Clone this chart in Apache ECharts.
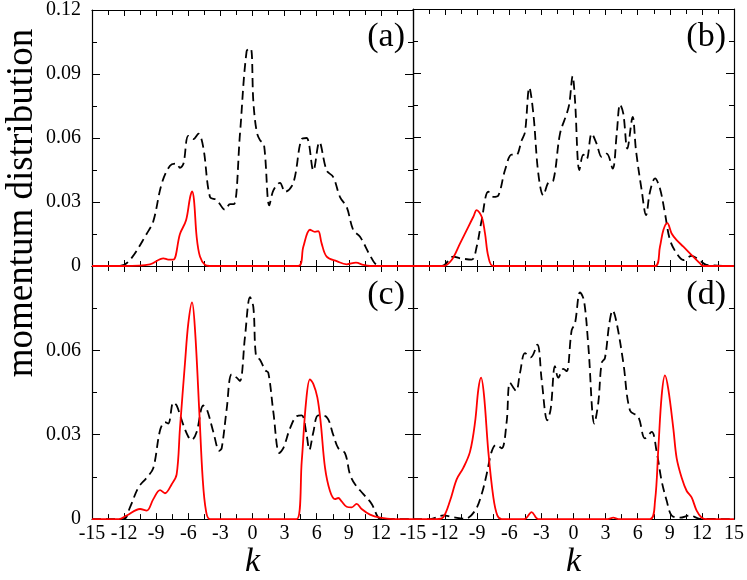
<!DOCTYPE html>
<html>
<head>
<meta charset="utf-8">
<script src="https://cdn.jsdelivr.net/npm/echarts@6/dist/echarts.min.js"></script>
<style>html,body{margin:0;padding:0;background:#fff;font-family:"Liberation Serif","DejaVu Serif",serif}#c{width:747px;height:580px}</style>
</head>
<body>
<div id="c"></div>
<script>
// ---- tick labels / categories ----
var panelLabels = ['(a)', '(b)', '(c)', '(d)'];
var xTickStep = 3;
var yTickStep = 0.03;
var yMaxTop = 0.12;
var yMaxBottom = 0.09;

// ---- panel (a) ----
var aDashK = [-15,-12.4,-11.45,-9.9,-9.27,-8.49,-7.71,-7.09,-6.78,-6.45,-6.0,-5.53,-5.06,-4.6,-3.97,-3.35,-2.57,-2.1,-1.73,-1.17,-0.55,-0.17,0.08,0.39,0.7,1.07,1.57,1.95,2.57,3.04,3.82,4.6,5.06,5.69,6.25,6.93,7.55,8.18,8.8,9.42,10.05,10.98,11.6,12.2,15];
var aDashV = [0,0,0.0028,0.015,0.021,0.0385,0.047,0.048,0.046,0.048,0.061,0.0595,0.062,0.0556,0.0323,0.031,0.0264,0.029,0.029,0.062,0.1007,0.102,0.077,0.063,0.059,0.057,0.0284,0.0354,0.039,0.0347,0.039,0.0595,0.060,0.0448,0.058,0.0448,0.0417,0.0323,0.0277,0.0168,0.0137,0.005,0.0005,0,0];
var aSolidK = [-15,-12,-9.58,-8.33,-7.87,-7.4,-6.78,-6.21,-5.84,-5.65,-5.47,-5.22,-4.91,-4.44,-4,4.28,4.75,5.37,5.84,6.15,6.46,6.93,7.87,8.8,9.67,10.36,11,15];
var aSolidV = [0,0,0.0008,0.0036,0.003,0.003,0.015,0.0214,0.032,0.035,0.031,0.0137,0.0044,0.0005,0,0,0.009,0.017,0.016,0.0163,0.0106,0.0044,0.0023,0.0008,0.0016,0.0005,0,0];

// ---- panel (b) ----
var bDashK = [-15,-12.3,-11.23,-10.6,-9.52,-9.05,-8.58,-7.96,-7.49,-7.02,-6.4,-5.78,-5.37,-4.84,-4.53,-4.13,-3.75,-3.29,-2.82,-2.35,-1.88,-1.26,-0.64,-0.39,-0.08,0.14,0.55,0.92,1.23,1.7,2.17,2.63,3.1,3.66,4.04,4.35,4.66,5.03,5.53,5.84,6.37,6.78,7.15,7.62,8.08,8.55,9.02,9.64,10.27,11.04,11.82,12.44,15];
var bDashV = [0,0,0.0044,0.0036,0.003,0.009,0.0214,0.0347,0.0323,0.033,0.0448,0.052,0.0517,0.0587,0.0626,0.0833,0.071,0.0432,0.033,0.039,0.040,0.0618,0.071,0.0758,0.0886,0.0774,0.0448,0.052,0.050,0.0618,0.057,0.051,0.0525,0.0455,0.0618,0.0755,0.071,0.0548,0.0696,0.054,0.0354,0.0238,0.0347,0.0409,0.0362,0.0245,0.0121,0.0059,0.0028,0.0047,0.0025,0.0005,0];
var bSolidK = [-15,-12.17,-11.39,-10.6,-9.83,-9.36,-9.05,-8.58,-8.27,-7.96,-7.49,7.62,8.08,8.4,8.77,9.17,9.64,10.27,11.04,11.82,12.13,15];
var bSolidV = [0,0,0.0028,0.0106,0.0183,0.023,0.0261,0.023,0.0152,0.0044,0,0,0.009,0.0168,0.020,0.0152,0.0121,0.009,0.0051,0.0012,0,0];

// ---- panel (c) ----
var cDashK = [-15,-12.07,-11.45,-10.67,-9.89,-9.27,-8.64,-8.18,-7.87,-7.4,-7.09,-6.46,-6.0,-5.69,-5.22,-4.6,-4.28,-3.66,-3.1,-2.88,-2.41,-1.95,-1.48,-1.17,-0.7,-0.23,0.08,0.33,0.7,1.17,1.48,1.95,2.51,2.88,3.5,4.13,4.6,5.06,5.31,5.69,6.15,6.93,7.55,8.02,8.64,9.11,9.58,10.36,11.14,11.76,12.2,15];
var cDashV = [0,0,0.0042,0.0112,0.0147,0.0182,0.0316,0.0345,0.034,0.0415,0.0404,0.0334,0.0293,0.0281,0.031,0.0404,0.0392,0.031,0.0243,0.0252,0.0392,0.0515,0.0503,0.0491,0.0649,0.0789,0.0754,0.0579,0.0567,0.053,0.052,0.038,0.0235,0.0252,0.0322,0.0366,0.0369,0.0299,0.0246,0.031,0.0369,0.0363,0.0299,0.0252,0.0235,0.0159,0.0124,0.0089,0.0054,0.0005,0,0];
var cSolidK = [-15,-12.5,-11.76,-10.51,-9.89,-9.27,-8.64,-8.18,-7.55,-7.09,-6.78,-6.31,-6.0,-5.65,-5.37,-4.97,-4.66,-4.35,-3.97,4.13,4.6,5.0,5.37,5.69,6.06,6.37,6.78,7.24,7.71,8.02,8.33,8.8,9.27,9.73,10.2,10.98,11.92,13.16,15];
var cSolidV = [0,0,0.0013,0.0036,0.003,0.0071,0.0103,0.0092,0.0124,0.0159,0.0322,0.0555,0.0696,0.0771,0.0672,0.038,0.0147,0.003,0,0,0.0205,0.0415,0.0497,0.048,0.0433,0.0345,0.0182,0.01,0.0071,0.0075,0.0063,0.0044,0.0042,0.0054,0.0036,0.0016,0.0005,0,0];

// ---- panel (d) ----
var dDashK = [-15,-13.4,-12.17,-11.23,-10.14,-9.2,-8.58,-8.12,-7.65,-7.24,-6.71,-6.25,-5.93,-5.37,-5.0,-4.53,-4.0,-3.38,-2.98,-2.45,-2.13,-1.73,-1.42,-0.95,-0.64,-0.17,0.14,0.61,0.98,1.39,1.95,2.32,2.63,2.94,3.35,3.66,4.04,4.66,5.28,6.06,6.68,7.31,7.77,8.24,8.71,9.17,9.95,10.89,11.82,15];
var dDashV = [0,0,0.0013,0.0007,0.0001,0.003,0.0089,0.0159,0.024,0.0264,0.0252,0.0345,0.0485,0.0456,0.052,0.059,0.0575,0.062,0.0497,0.0351,0.0392,0.0544,0.0503,0.0534,0.0526,0.0672,0.0696,0.0806,0.0777,0.0614,0.034,0.0415,0.0555,0.0573,0.0696,0.0742,0.0696,0.0555,0.0386,0.0363,0.0287,0.031,0.024,0.0135,0.0065,0.0013,0.0005,0.0013,0.0001,0];
var dSolidK = [-15,-12.8,-12.17,-11.54,-10.92,-10.3,-9.67,-9.2,-8.89,-8.64,-8.36,-7.96,-7.49,-7.12,-6.71,-4.6,-3.91,-3.3,3.2,3.72,4.2,7.15,7.62,7.93,8.24,8.55,8.86,9.33,9.64,10.11,10.58,11.04,11.51,11.98,12.5,15];
var dSolidV = [0,0,0.0007,0.0065,0.0141,0.0182,0.024,0.0345,0.0462,0.0503,0.0439,0.024,0.0077,0.0013,0,0,0.0025,0,0,0.0005,0,0,0.0065,0.0252,0.0439,0.0511,0.0462,0.0322,0.0217,0.0147,0.01,0.0077,0.003,0.0005,0,0];

function zip(k, v) { return k.map(function (x, i) { return [x, v[i]]; }); }

var FONT = '"Liberation Serif", "DejaVu Serif", "Times New Roman", Times, serif';
var grids = [
  { left: 92, top: 9, width: 321, height: 257 },
  { left: 413, top: 9, width: 321, height: 257 },
  { left: 92, top: 266, width: 321, height: 258 },
  { left: 413, top: 266, width: 321, height: 258 }
];
var yMaxes = [yMaxTop, yMaxTop, yMaxBottom, yMaxBottom];
var dashSets = [[aDashK, aDashV], [bDashK, bDashV], [cDashK, cDashV], [dDashK, dDashV]];
var solidSets = [[aSolidK, aSolidV], [bSolidK, bSolidV], [cSolidK, cSolidV], [dSolidK, dSolidV]];

var lineCommon = { show: true, onZero: false, lineStyle: { color: '#000', width: 1.2 } };
var tickStyle = { color: '#000', width: 1 };
var xAxes = [], yAxes = [], series = [];
for (var g = 0; g < 4; g++) {
  var isBottom = g >= 2, isLeft = (g % 2) === 0;
  xAxes.push({
    type: 'value', gridIndex: g, position: 'bottom', min: -15, max: 15, interval: xTickStep,
    axisLine: lineCommon, splitLine: { show: false },
    axisTick: { inside: true, length: 6, lineStyle: tickStyle },
    minorTick: { show: true, splitNumber: 2, length: 5, lineStyle: tickStyle },
    axisLabel: { show: isBottom, margin: 5, color: '#000', fontSize: 20, fontFamily: FONT,
      showMaxLabel: g === 3, formatter: function (v) { return String(v); } },
    name: isBottom ? 'k' : '', nameLocation: 'middle', nameGap: 25,
    nameTextStyle: { fontStyle: 'italic', fontSize: 34, fontFamily: FONT, color: '#000' }
  });
  xAxes.push({
    type: 'value', gridIndex: g, position: 'top', min: -15, max: 15, interval: xTickStep,
    axisLine: lineCommon, splitLine: { show: false },
    axisTick: { inside: true, length: 6, lineStyle: tickStyle },
    minorTick: { show: true, splitNumber: 2, length: 5, lineStyle: tickStyle },
    axisLabel: { show: false }
  });
  yAxes.push({
    type: 'value', gridIndex: g, position: 'left', min: 0, max: yMaxes[g], interval: yTickStep,
    axisLine: lineCommon, splitLine: { show: false },
    axisTick: { inside: true, length: 8, lineStyle: tickStyle },
    minorTick: { show: true, splitNumber: 2, length: 5, lineStyle: tickStyle },
    axisLabel: { show: isLeft, margin: 11, color: '#000', fontSize: 20, fontFamily: FONT,
      showMaxLabel: !isBottom,
      formatter: function (v) { return v === 0 ? '0' : v.toFixed(2); } }
  });
  yAxes.push({
    type: 'value', gridIndex: g, position: 'right', min: 0, max: yMaxes[g], interval: yTickStep,
    axisLine: lineCommon, splitLine: { show: false },
    axisTick: { inside: true, length: 8, lineStyle: tickStyle },
    minorTick: { show: true, splitNumber: 2, length: 5, lineStyle: tickStyle },
    axisLabel: { show: false }
  });
  series.push({
    type: 'line', xAxisIndex: 2 * g, yAxisIndex: 2 * g, showSymbol: false, smooth: 0.35,
    data: zip(dashSets[g][0], dashSets[g][1]),
    lineStyle: { color: '#000', width: 1.8, type: [9, 5] }, z: 3
  });
  series.push({
    type: 'line', xAxisIndex: 2 * g, yAxisIndex: 2 * g, showSymbol: false, smooth: 0.35,
    data: zip(solidSets[g][0], solidSets[g][1]),
    lineStyle: { color: '#ff0000', width: 1.8 }, z: 4
  });
}

var labelPos = [[405, 37], [726, 37], [405, 295], [726, 295]];
var graphics = labelPos.map(function (p, i) {
  return { type: 'text', x: p[0], y: p[1], z: 10,
    style: { text: panelLabels[i], align: 'right', verticalAlign: 'middle',
      font: '34px ' + FONT, fill: '#000' } };
});
graphics.push({ type: 'text', x: 22, y: 203, rotation: Math.PI / 2, z: 10,
  style: { text: 'momentum distribution', align: 'center', verticalAlign: 'middle',
    font: '37px ' + FONT, fill: '#000' } });

var chart = echarts.init(document.getElementById('c'), null, { renderer: 'canvas' });
chart.setOption({
  animation: false,
  backgroundColor: '#fff',
  textStyle: { fontFamily: FONT },
  grid: grids,
  xAxis: xAxes,
  yAxis: yAxes,
  series: series,
  graphic: graphics
});
</script>
</body>
</html>
